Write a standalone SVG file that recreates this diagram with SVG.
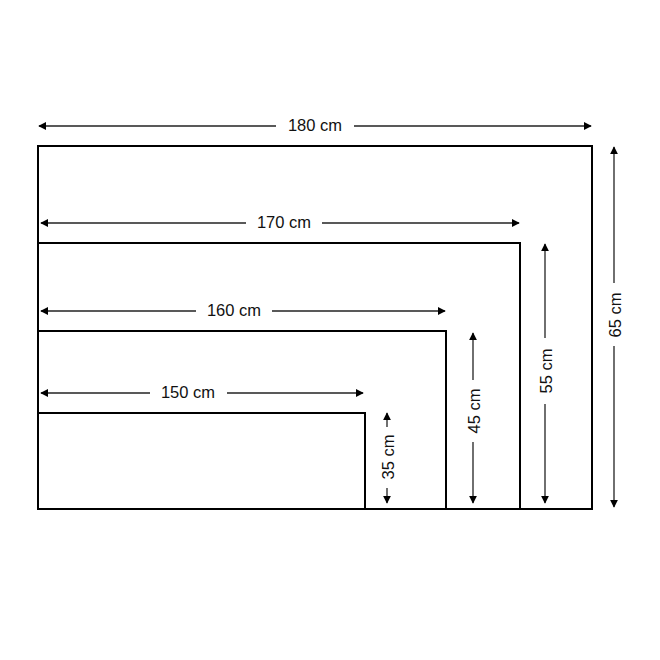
<svg xmlns="http://www.w3.org/2000/svg" width="660" height="660" viewBox="0 0 660 660">
<style>
.box{fill:none;stroke:#000;stroke-width:2}
.dim{stroke:#222;stroke-width:1.3;fill:none}
.lbl{font-family:"Liberation Sans",Arial,sans-serif;font-size:16.5px;fill:#111;text-anchor:middle;dominant-baseline:central}
</style>
<defs>
<marker id="ah" viewBox="0 0 10 10" refX="9" refY="5" markerWidth="8" markerHeight="8" markerUnits="userSpaceOnUse" orient="auto-start-reverse">
<path d="M0,0 L10,5 L0,10 z" fill="#000"/>
</marker>
</defs>
<rect width="660" height="660" fill="#fff"/>
<g id="frame-180"><path class="box" d="M38,509 V146 H592 V509 Z"/></g>
<g id="frame-170"><path class="box" d="M38,243 H520 V509"/></g>
<g id="frame-160"><path class="box" d="M38,331 H446 V509"/></g>
<g id="frame-150"><path class="box" d="M38,413 H365 V509"/></g>
<g id="connectors">
<path class="dim" d="M39,126 H276" marker-start="url(#ah)"/>
<path class="dim" d="M354,126 H591" marker-end="url(#ah)"/>
<path class="dim" d="M41,223 H246" marker-start="url(#ah)"/>
<path class="dim" d="M322,223 H519" marker-end="url(#ah)"/>
<path class="dim" d="M41,311 H196" marker-start="url(#ah)"/>
<path class="dim" d="M272,311 H445" marker-end="url(#ah)"/>
<path class="dim" d="M41,393 H150" marker-start="url(#ah)"/>
<path class="dim" d="M227,393 H363" marker-end="url(#ah)"/>
<path class="dim" d="M614,147 V283" marker-start="url(#ah)"/>
<path class="dim" d="M614,346 V507" marker-end="url(#ah)"/>
<path class="dim" d="M545,244 V338" marker-start="url(#ah)"/>
<path class="dim" d="M545,404 V503" marker-end="url(#ah)"/>
<path class="dim" d="M473,333 V380" marker-start="url(#ah)"/>
<path class="dim" d="M473,442 V503" marker-end="url(#ah)"/>
<path class="dim" d="M387,413 V427" marker-start="url(#ah)"/>
<path class="dim" d="M387,488 V503" marker-end="url(#ah)"/>
</g>
<g id="labels">
<text class="lbl" x="315" y="125">180 cm</text>
<text class="lbl" x="284" y="222">170 cm</text>
<text class="lbl" x="234" y="310">160 cm</text>
<text class="lbl" x="188" y="392">150 cm</text>
<text class="lbl" transform="translate(615,315) rotate(-90)">65 cm</text>
<text class="lbl" transform="translate(546,371) rotate(-90)">55 cm</text>
<text class="lbl" transform="translate(474,411) rotate(-90)">45 cm</text>
<text class="lbl" transform="translate(388,457) rotate(-90)">35 cm</text>
</g>
</svg>
